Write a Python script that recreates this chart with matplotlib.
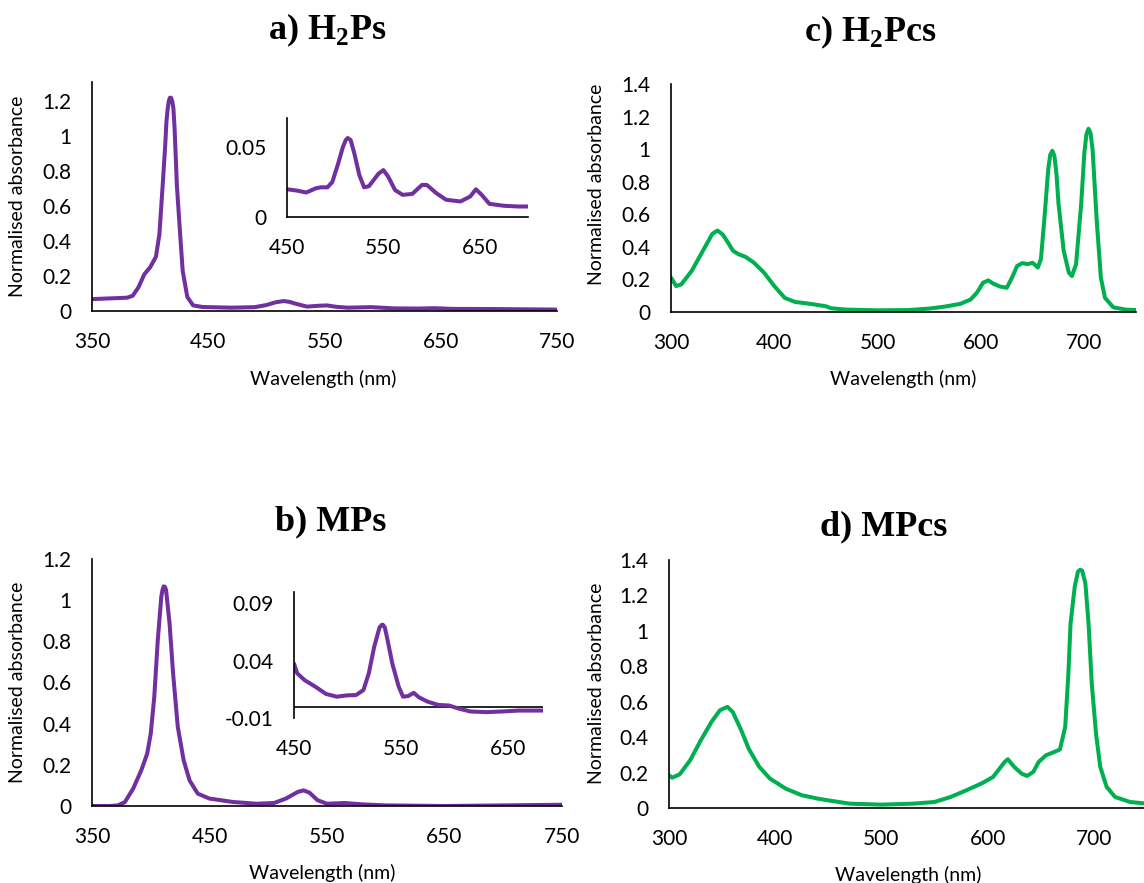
import matplotlib
matplotlib.use("Agg")
import matplotlib.pyplot as plt

# ---------------- data ----------------
# a) H2Ps main spectrum
a_wl = [350, 365, 380, 385, 390, 395, 400, 405, 408, 411, 413, 414, 415, 416, 417, 418, 419, 420,
        421, 422, 423, 425, 428, 432, 437, 445, 470, 490, 500, 508, 515, 520, 525, 535, 545, 552,
        560, 570, 590, 610, 630, 645, 660, 700, 750]
a_abs = [0.068, 0.072, 0.076, 0.087, 0.136, 0.21, 0.25, 0.31, 0.44, 0.74, 0.95, 1.08, 1.15, 1.20,
         1.22, 1.22, 1.20, 1.16, 1.05, 0.89, 0.72, 0.52, 0.23, 0.08, 0.032, 0.023, 0.019, 0.022,
         0.034, 0.05, 0.057, 0.052, 0.042, 0.025, 0.03, 0.032, 0.024, 0.019, 0.022, 0.015, 0.014,
         0.016, 0.012, 0.011, 0.008]
# a) inset (Q bands)
ai_wl = [450, 460, 470, 480, 485, 492, 497, 503, 508, 511, 513, 516, 520, 525, 530, 535, 545, 550,
         555, 562, 570, 580, 590, 595, 605, 615, 630, 640, 646, 652, 660, 675, 690, 700]
ai_abs = [0.0198, 0.0189, 0.0175, 0.0205, 0.0212, 0.0212, 0.025, 0.038, 0.050, 0.055, 0.0564,
          0.055, 0.045, 0.030, 0.0212, 0.022, 0.031, 0.0335, 0.0288, 0.0193, 0.0158, 0.0165,
          0.0229, 0.0229, 0.017, 0.0123, 0.0111, 0.0146, 0.0198, 0.0158, 0.0094, 0.008, 0.0075,
          0.0075]

# b) MPs main spectrum
b_wl = [350, 365, 372, 378, 385, 392, 397, 400, 403, 406, 409, 410, 411, 412, 413, 416, 419, 423,
        428, 433, 440, 450, 470, 490, 505, 515, 525, 530, 535, 542, 550, 565, 580, 600, 650, 700,
        750]
b_abs = [0.0, 0.0, 0.003, 0.019, 0.084, 0.174, 0.255, 0.352, 0.53, 0.807, 1.018, 1.05, 1.067,
         1.065, 1.05, 0.888, 0.645, 0.385, 0.222, 0.125, 0.06, 0.036, 0.0195, 0.011, 0.0146, 0.036,
         0.068, 0.076, 0.065, 0.028, 0.011, 0.0146, 0.008, 0.003, 0.0, 0.003, 0.006]
# b) inset
bi_wl = [450, 453, 460, 470, 480, 490, 500, 508, 515, 520, 525, 530, 532, 533, 535, 537, 542, 548,
         552, 557, 562, 567, 575, 585, 595, 605, 615, 630, 645, 660, 675, 683]
bi_abs = [0.0375, 0.029, 0.023, 0.0173, 0.011, 0.0086, 0.0098, 0.010, 0.0144, 0.029, 0.052, 0.069,
          0.0712, 0.0715, 0.069, 0.0605, 0.0375, 0.0173, 0.0086, 0.0092, 0.012, 0.008, 0.0043,
          0.0014, 0.0009, -0.002, -0.0043, -0.0049, -0.0043, -0.0035, -0.0035, -0.0035]

# c) H2Pcs
c_wl = [300, 305, 310, 320, 330, 340, 345, 350, 355, 360, 365, 372, 380, 390, 400, 410, 420, 435,
        450, 455, 470, 500, 530, 550, 565, 580, 590, 596, 602, 607, 612, 618, 625, 630, 635, 640,
        645, 650, 655, 658, 662, 665, 667, 669, 671, 673, 675, 680, 685, 688, 692, 697, 700, 702,
        704, 706, 708, 712, 716, 720, 728, 740, 750]
c_abs = [0.211, 0.159, 0.17, 0.252, 0.366, 0.48, 0.50, 0.476, 0.428, 0.376, 0.356, 0.339, 0.304,
         0.242, 0.159, 0.087, 0.062, 0.05, 0.035, 0.023, 0.0145, 0.0103, 0.012, 0.021, 0.033, 0.05,
         0.077, 0.118, 0.18, 0.194, 0.174, 0.157, 0.149, 0.211, 0.283, 0.30, 0.294, 0.302, 0.273,
         0.325, 0.624, 0.873, 0.965, 0.99, 0.96, 0.85, 0.666, 0.376, 0.242, 0.221, 0.294, 0.666,
         0.976, 1.09, 1.125, 1.10, 0.997, 0.56, 0.21, 0.087, 0.029, 0.0145, 0.012]

# d) MPcs
d_wl = [300, 303, 310, 320, 330, 340, 348, 355, 360, 368, 375, 385, 395, 410, 425, 440, 450, 470,
        500, 530, 550, 565, 580, 595, 605, 610, 616, 619, 625, 632, 637, 643, 648, 655, 663, 668,
        673, 676, 678, 682, 685, 687, 689, 692, 695, 698, 702, 706, 712, 720, 734, 750]
d_abs = [0.185, 0.171, 0.19, 0.27, 0.383, 0.486, 0.552, 0.571, 0.542, 0.439, 0.335, 0.232, 0.166,
         0.109, 0.072, 0.053, 0.043, 0.0245, 0.019, 0.0245, 0.034, 0.062, 0.1, 0.141, 0.175, 0.213,
         0.26, 0.275, 0.232, 0.194, 0.181, 0.204, 0.26, 0.298, 0.317, 0.33, 0.458, 0.76, 1.04, 1.25,
         1.334, 1.345, 1.34, 1.268, 1.04, 0.703, 0.42, 0.232, 0.119, 0.062, 0.034, 0.0245]

titles = [r"a) H$_\mathbf{2}$Ps", r"b) MPs", r"c) H$_\mathbf{2}$Pcs", r"d) MPcs"]
xlabel = "Wavelength (nm)"
ylabel = "Normalised absorbance"

main_xticks_p = [350, 450, 550, 650, 750]
main_xticks_pc = [300, 400, 500, 600, 700]
inset_xticks = [450, 550, 650]
yt_a = [0, 0.2, 0.4, 0.6, 0.8, 1.0, 1.2]
yt_c = [0, 0.2, 0.4, 0.6, 0.8, 1.0, 1.2, 1.4]
yt_ai = [0, 0.05]
yt_bi = [-0.01, 0.04, 0.09]

# ---------------- styling ----------------
PURPLE = "#7030A0"
GREEN = "#00B050"
W, H = 1144, 883
plt.rcParams["font.family"] = ["Lato", "DejaVu Sans"]
plt.rcParams["mathtext.fontset"] = "custom"
plt.rcParams["mathtext.rm"] = "Liberation Serif:bold"
plt.rcParams["mathtext.bf"] = "Liberation Serif:bold"

fig = plt.figure(figsize=(W / 100, H / 100), dpi=100)
fig.patch.set_facecolor("white")


def add_ax(left, top, right, bottom):
    return fig.add_axes([left / W, 1 - bottom / H, (right - left) / W, (bottom - top) / H])


def fmt(v):
    s = ("%.2f" % v).rstrip("0").rstrip(".")
    return "0" if s in ("-0", "") else s


def style(ax, xt, yt, xlim, ylim, fs=15, pad=15):
    ax.set_xlim(*xlim)
    ax.set_ylim(*ylim)
    ax.set_xticks(xt)
    ax.set_xticklabels([str(v) for v in xt])
    ax.set_yticks(yt)
    ax.set_yticklabels([fmt(v) for v in yt])
    for s in ("top", "right"):
        ax.spines[s].set_visible(False)
    for s in ("left", "bottom"):
        ax.spines[s].set_color("black")
        ax.spines[s].set_linewidth(1.2)
    ax.tick_params(length=0, labelsize=fs, pad=pad, colors="black")
    ax.patch.set_alpha(0)


LKW = dict(lw=2.9, solid_joinstyle="round", solid_capstyle="round")

# panel a
ax_a = add_ax(92, 82, 557, 311)
ax_a.plot(a_wl, a_abs, color=PURPLE, **LKW)
style(ax_a, main_xticks_p, yt_a, (350, 750), (0, 1.31))
ax_ai = add_ax(287, 118, 528, 217)
ax_ai.plot(ai_wl, ai_abs, color=PURPLE, **LKW)
style(ax_ai, inset_xticks, yt_ai, (450, 700), (0, 0.0707))

# panel b
ax_b = add_ax(92, 559, 562, 806)
ax_b.plot(b_wl, b_abs, color=PURPLE, **LKW)
style(ax_b, main_xticks_p, yt_a, (350, 750), (0, 1.2))
ax_bi = add_ax(294, 592, 543, 718)
ax_bi.plot(bi_wl, bi_abs, color=PURPLE, **LKW)
style(ax_bi, inset_xticks, yt_bi, (450, 683), (-0.01, 0.1))
ax_bi.spines["bottom"].set_visible(False)
ax_bi.axhline(0, color="black", lw=1.2, zorder=1)

# panel c
ax_c = add_ax(671, 84, 1136, 312)
ax_c.plot(c_wl, c_abs, color=GREEN, **LKW)
style(ax_c, main_xticks_pc, yt_c, (300, 750), (0, 1.4))

# panel d
ax_d = add_ax(669, 560, 1147, 808)
ax_d.plot(d_wl, d_abs, color=GREEN, **LKW)
style(ax_d, main_xticks_pc, yt_c, (300, 750), (0, 1.4))


def ftext(x, y, s, **kw):
    fig.text(x / W, 1 - y / H, s, ha="center", va="center", **kw)


# titles
tkw = dict(fontsize=26, fontweight="bold", family="Liberation Serif")
ftext(327, 30, titles[0], **tkw)
ftext(331, 522, titles[1], **tkw)
ftext(870, 32, titles[2], **tkw)
ftext(884, 527, titles[3], **tkw)

# axis labels
lkw = dict(fontsize=14, color="black")
ftext(323, 379, xlabel, **lkw)
ftext(903, 379, xlabel, **lkw)
ftext(322, 873, xlabel, **lkw)
ftext(908, 875, xlabel, **lkw)
ftext(18, 196, ylabel, rotation=90, **lkw)
ftext(596, 184, ylabel, rotation=90, **lkw)
ftext(18, 682, ylabel, rotation=90, **lkw)
ftext(596, 683, ylabel, rotation=90, **lkw)

fig.savefig("out.png", dpi=100)
